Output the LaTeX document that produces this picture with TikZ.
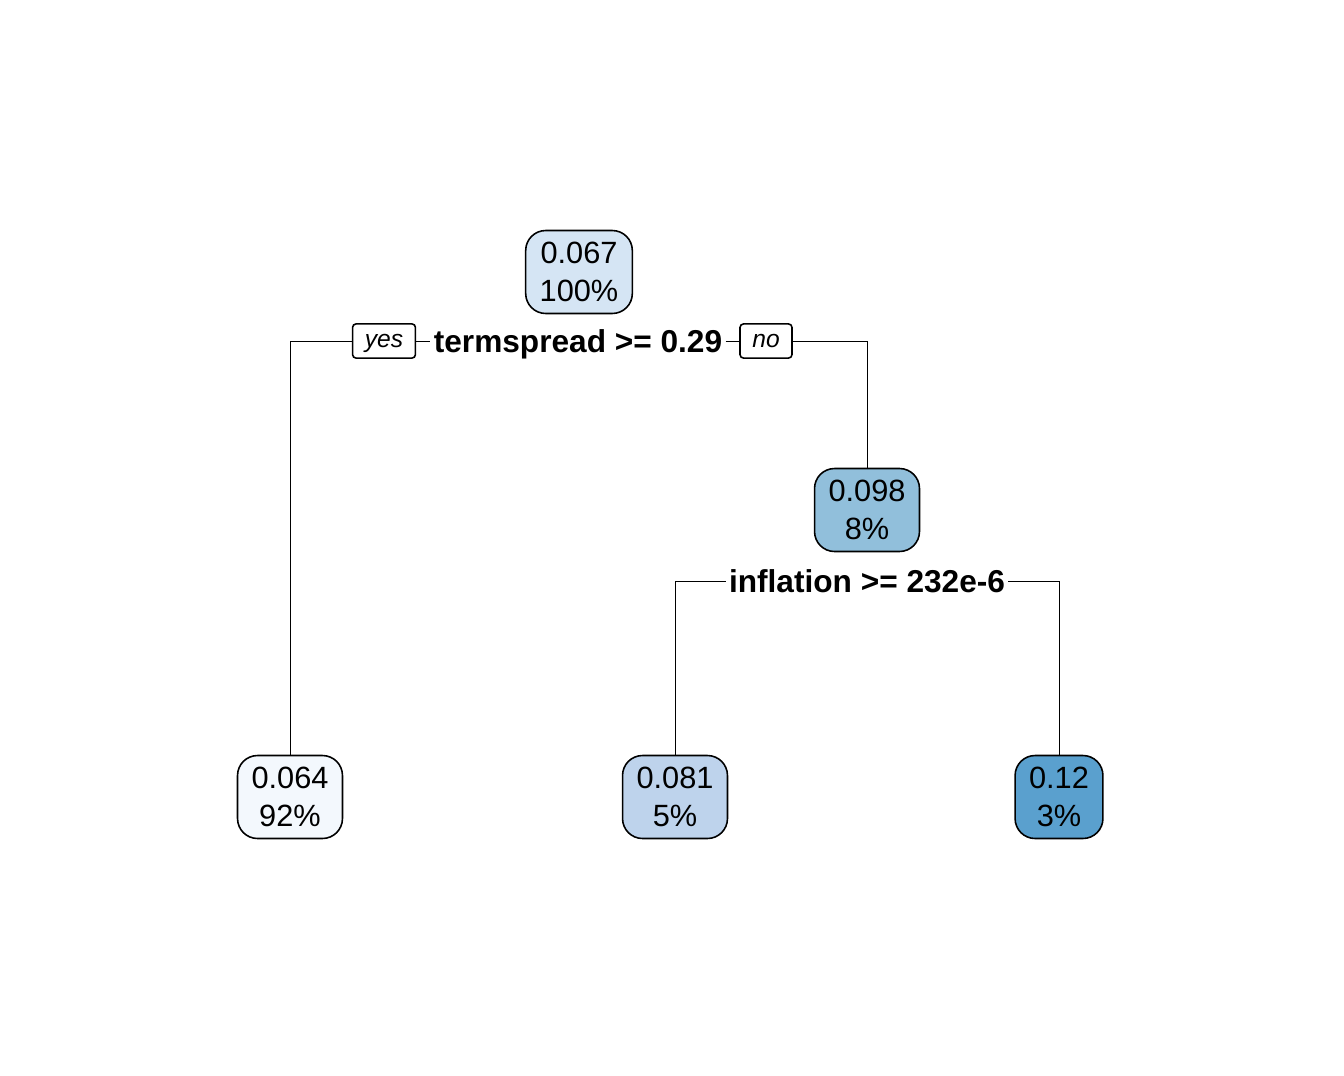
\documentclass[tikz,border=0pt]{standalone}
\usepackage{fontspec}
\setmainfont{Liberation Sans}
\usetikzlibrary{positioning, backgrounds}

\definecolor{fillroot}{HTML}{D5E5F4}
\definecolor{fillmid}{HTML}{91BFDB}
\definecolor{fillyes}{HTML}{F3F8FD}
\definecolor{fillinfl}{HTML}{BED3EC}
\definecolor{fillhigh}{HTML}{5AA0CE}

\begin{document}
\begin{tikzpicture}[
  x=0.02cm, y=-0.02cm, line width=0.9pt,
  box/.style   = {draw, rounded corners=0.4cm, inner xsep=0.28cm, minimum height=1.66cm,
                  align=center, font=\fontsize{17.5}{21.6}\selectfont},
  split/.style = {fill=white, inner sep=1.5pt, text height=13pt, text depth=0pt,
                  font=\fontsize{18}{21}\selectfont\bfseries},
  tag/.style   = {draw, fill=white, rounded corners=2pt, inner xsep=7pt,
                  text height=10pt, text depth=2.8pt, minimum height=0.66cm,
                  font=\fontsize{14}{16}\selectfont\itshape},
]
  \useasboundingbox (0,0) rectangle (1344,1075);

  % tree nodes
  \node[box, fill=fillroot]  (root)  at (579,272)  {0.067\\100\%};
  \node[box, fill=fillmid]   (mid)   at (867,510)  {0.098\\8\%};
  \node[box, fill=fillyes]   (leafA) at (290,797)  {0.064\\92\%};
  \node[box, fill=fillinfl]  (leafB) at (675,797)  {0.081\\5\%};
  \node[box, fill=fillhigh]  (leafC) at (1059,797) {0.12\\3\%};

  % split labels
  \node[split] (s1) at (578,341) {termspread >= 0.29};
  \node[split] (s2) at (867,581) {inflation >= 232e-6};
  \node[tag]   (yes) at (384,341) {yes};
  \node[tag]   (no)  at (766,341) {no};

  \begin{scope}[on background layer]
    \draw (leafA.north) |- (s1) -| (mid.north);
    \draw (leafB.north) |- (s2) -| (leafC.north);
  \end{scope}
\end{tikzpicture}
\end{document}
